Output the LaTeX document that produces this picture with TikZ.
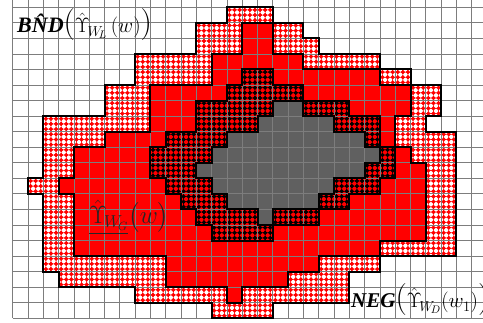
\documentclass[tikz,border=0pt]{standalone}
\usepackage{amsmath}
\usepackage{fontspec}
\setmainfont{Liberation Serif}
\newfontfamily\lmfont{Latin Modern Roman}
\definecolor{cellred}{RGB}{255,0,0}
\definecolor{cellgray}{RGB}{96,96,96}
\definecolor{gridgray}{RGB}{125,125,125}
\newcommand\getcell[3]{\ifcsname cl-#1-#2\endcsname\edef#3{\csname cl-#1-#2\endcsname}\else\def#3{W}\fi}
\newcommand\stardot[3]{%
  \fill[#3,shift={(#1,#2)}] (2.75,0) -- (1.0,1.0) -- (0,2.75) -- (-1.0,1.0) -- (-2.75,0) -- (-1.0,-1.0) -- (0,-2.75) -- (1.0,-1.0) -- cycle;
  \fill[#3] (#1,#2) circle (1.85);}
\newcommand\bp[1]{{\lmfont\upshape\mdseries\fontsize{32}{32}\selectfont #1}}
\tikzset{
  gridl/.style={draw=gridgray, line width=0.8pt},
  bndline/.style={draw=black, line width=2pt, line cap=rect},
  lbl/.style={anchor=base west, inner sep=0pt}
}
\begin{document}
\begin{tikzpicture}[x=1pt,y=-1pt]
\useasboundingbox (0,0) rectangle (483,323);
\fill[white] (0,0) rectangle (483,323);
\clip (0,0) rectangle (483,323);
% cells
\foreach \r/\ty/\a/\b in {
0/P/14/16,
1/P/12/14, 1/R/15/16, 1/P/17/18,
2/P/12/14, 2/R/15/16, 2/P/17/19,
3/P/8/12, 3/R/13/18, 3/P/19/23,
4/P/8/12, 4/R/13/14, 4/D/15/16, 4/R/17/23, 4/P/24/25,
5/P/6/8, 5/R/9/13, 5/D/14/18, 5/R/19/25, 5/P/26/27,
6/P/6/8, 6/R/9/11, 6/D/12/16, 6/G/17/18, 6/D/19/21, 6/R/22/25, 6/P/26/27,
7/P/2/8, 7/R/9/11, 7/D/12/15, 7/G/16/20, 7/D/21/23, 7/R/24/24, 7/P/25/26,
8/P/2/5, 8/R/6/9, 8/D/10/13, 8/G/14/22, 8/D/23/23, 8/R/24/24, 8/P/25/28,
9/P/2/3, 9/R/4/8, 9/D/9/12, 9/G/13/23, 9/D/24/24, 9/R/25/25, 9/P/26/28,
10/P/2/3, 10/R/4/8, 10/D/9/11, 10/G/12/22, 10/D/23/24, 10/R/25/26, 10/P/27/28,
11/P/1/2, 11/R/3/9, 11/D/10/12, 11/G/13/20, 11/D/21/23, 11/R/24/26, 11/P/27/28,
12/P/2/3, 12/R/4/10, 12/D/11/13, 12/G/14/19, 12/D/20/21, 12/R/22/26, 12/P/27/28,
13/P/2/3, 13/R/4/11, 13/D/12/15, 13/G/16/16, 13/D/17/19, 13/R/20/26, 13/P/27/28,
14/P/2/3, 14/R/4/12, 14/D/13/16, 14/R/17/26, 14/P/27/28,
15/P/2/3, 15/R/4/23, 15/P/24/28,
16/P/2/9, 16/R/10/19, 16/P/20/23,
17/P/3/9, 17/R/10/17, 17/P/18/21,
18/P/8/13, 18/R/14/14, 18/P/15/21,
19/P/13/16}{
  \foreach \c in {\a,...,\b}{\expandafter\xdef\csname cl-\r-\c\endcsname{\ty}}
  \pgfmathsetmacro\xa{12.7+15.3*\a}
  \pgfmathsetmacro\xb{12.7+15.3*(\b+1)}
  \pgfmathsetmacro\ya{7.3+15.55*\r}
  \pgfmathsetmacro\yb{7.3+15.55*(\r+1)}
  \def\dc{none}
  \if\ty P \fill[white] (\xa,\ya) rectangle (\xb,\yb); \def\dc{cellred}\fi
  \if\ty R \fill[cellred] (\xa,\ya) rectangle (\xb,\yb); \fi
  \if\ty D \fill[cellred] (\xa,\ya) rectangle (\xb,\yb); \def\dc{black}\fi
  \if\ty G \fill[cellgray] (\xa,\ya) rectangle (\xb,\yb); \fi
  \if\ty R\else\if\ty G\else
  \foreach \c in {\a,...,\b}{
    \foreach \i in {0,1,2}{
      \foreach \j in {0,1,2}{
        \pgfmathsetmacro\dx{12.7+15.3*\c+2.55+5.1*\i}
        \pgfmathsetmacro\dy{7.3+15.55*\r+2.59+5.183*\j}
        \stardot{\dx}{\dy}{\dc}
      }
    }
  }
  \fi\fi
}
% grid
\foreach \c in {0,...,30}{\draw[gridl] ({12.7+15.3*\c},0) -- ({12.7+15.3*\c},318.3);}
\foreach \r in {0,...,20}{\draw[gridl] (12.7,{7.3+15.55*\r}) -- (483,{7.3+15.55*\r});}
% horizontal boundaries
\foreach \r in {-1,0,...,19}{
  \pgfmathtruncatemacro\rn{\r+1}
  \pgfmathsetmacro\yy{7.3+15.55*\rn}
  \foreach \c in {0,...,30}{
    \getcell{\r}{\c}\ca \getcell{\rn}{\c}\cb
    \ifx\ca\cb\else
      \pgfmathsetmacro\xl{12.7+15.3*\c}
      \draw[bndline] (\xl,\yy) -- ++(15.3,0);
    \fi
  }
}
% vertical boundaries
\foreach \r in {0,...,19}{
  \pgfmathsetmacro\ya{7.3+15.55*\r}
  \foreach \c in {0,...,29}{
    \pgfmathtruncatemacro\cn{\c+1}
    \getcell{\r}{\c}\ca \getcell{\r}{\cn}\cb
    \ifx\ca\cb\else
      \pgfmathsetmacro\xl{12.7+15.3*\cn}
      \draw[bndline] (\xl,\ya) -- ++(0,15.55);
    \fi
  }
}
% labels
\node[lbl] (bnd) at (17,33) {\fontsize{22}{24}\selectfont\bfseries\itshape B\^{N}D\bp{(}$\hat{\Upsilon}_{\!W_{\!L}}\,(w)$\bp{)}};
\node[lbl, text=black!85] (low) at (89,224) {\fontsize{23}{25}\selectfont$\underline{\hat{\Upsilon}_{\!W_{\!G}}}\bigl(w\bigr)$};
\node[lbl] (neg) at (351,308) {\fontsize{21}{24}\selectfont\bfseries\itshape NEG\bp{(}$\hat{\Upsilon}_{\!W_{\!D}}(w_1)$\bp{)}};
\end{tikzpicture}
\end{document}
